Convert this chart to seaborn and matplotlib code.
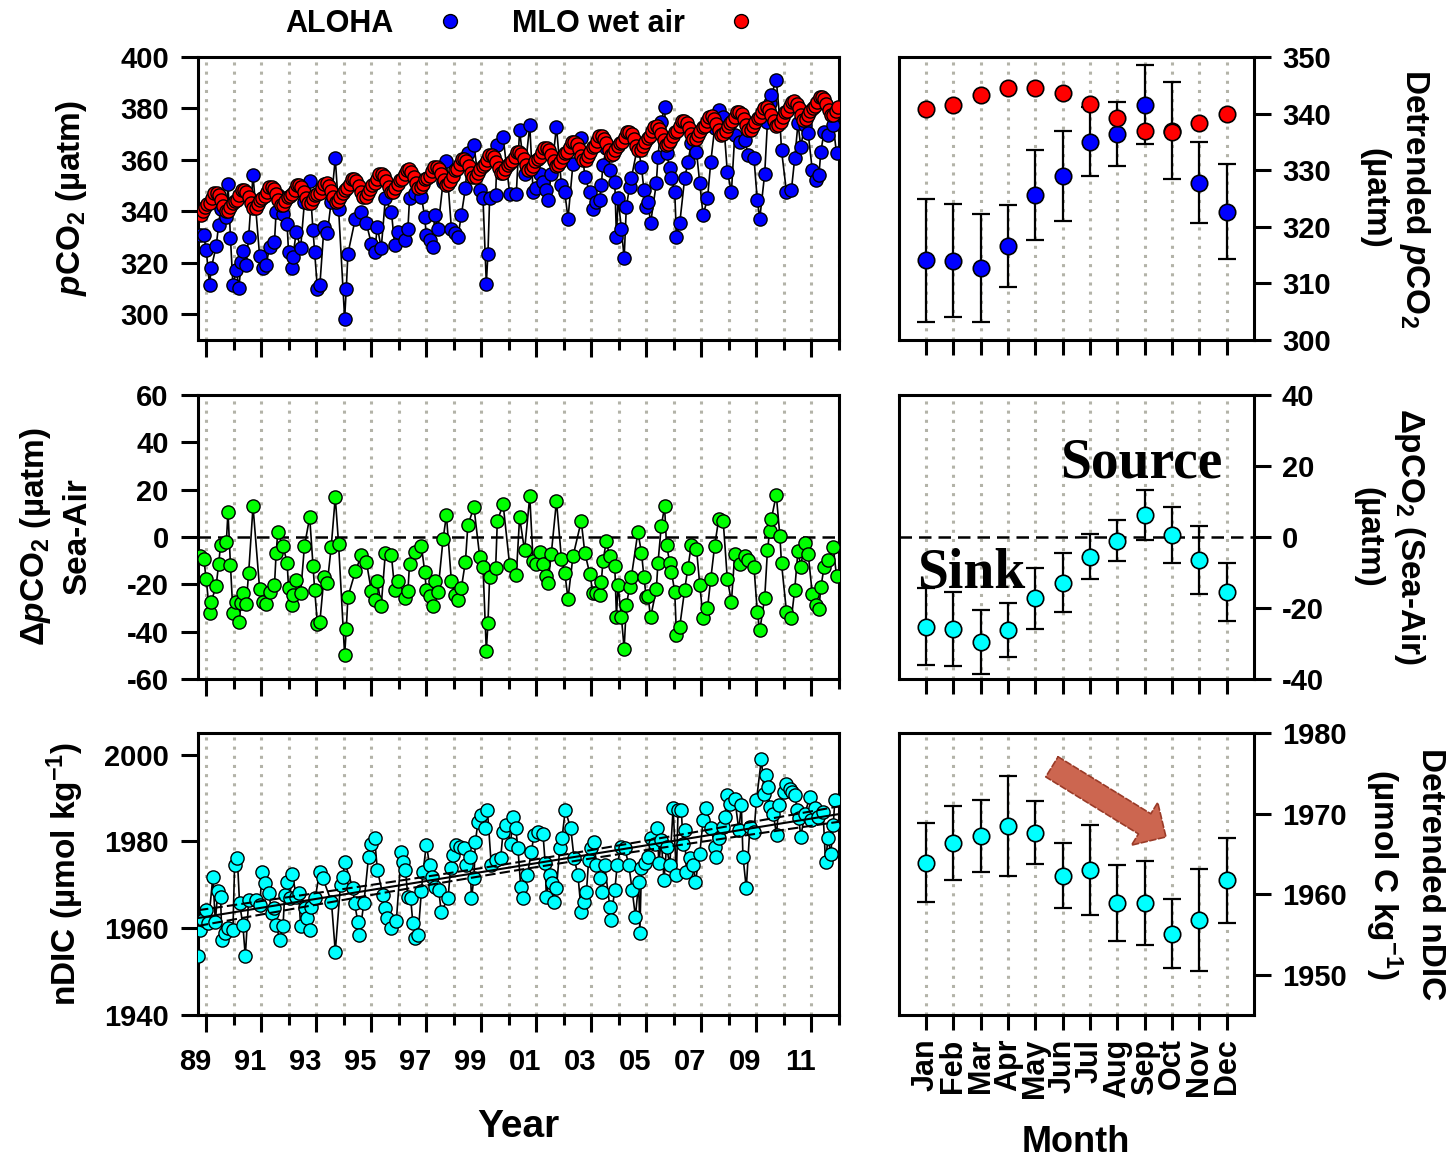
import numpy as np
import matplotlib
matplotlib.use('Agg')
import matplotlib.pyplot as plt
import matplotlib.transforms as mtransforms
from matplotlib.lines import Line2D
import seaborn as sns

# ---------------- data ----------------
# ALOHA surface pCO2 (uatm), decimal year
aloha_t = [1988.76, 1988.91, 1989.00, 1989.12, 1989.18, 1989.36, 1989.45, 1989.52, 1989.73, 1989.79,
           1989.88, 1989.97, 1990.09, 1990.19, 1990.27, 1990.33, 1990.45, 1990.54, 1990.70, 1990.94,
           1991.06, 1991.18, 1991.30, 1991.48, 1991.54, 1991.60, 1991.79, 1991.94, 1991.99, 1992.11,
           1992.15, 1992.27, 1992.43, 1992.57, 1992.76, 1992.88, 1992.94, 1993.04, 1993.13, 1993.28,
           1993.40, 1993.54, 1993.69, 1993.81, 1994.03, 1994.09, 1994.15, 1994.42, 1994.64, 1994.82,
           1995.00, 1995.12, 1995.22, 1995.36, 1995.51, 1995.73, 1995.85, 1995.97, 1996.21, 1996.33,
           1996.39, 1996.58, 1996.82, 1996.94, 1997.00, 1997.12, 1997.24, 1997.30, 1997.42, 1997.61,
           1997.73, 1997.91, 1998.03, 1998.15, 1998.27, 1998.42, 1998.51, 1998.73, 1998.94, 1999.06,
           1999.18, 1999.24, 1999.30, 1999.52, 1999.58, 1999.79, 2000.03, 2000.27, 2000.39, 2000.57,
           2000.76, 2000.88, 2001.00, 2001.12, 2001.24, 2001.36, 2001.42, 2001.54, 2001.73, 2001.91,
           2002.03, 2002.15, 2002.33, 2002.63, 2002.76, 2002.94, 2003.06, 2003.18, 2003.30, 2003.36,
           2003.42, 2003.54, 2003.66, 2003.85, 2003.91, 2003.97, 2004.09, 2004.19, 2004.27, 2004.39,
           2004.45, 2004.69, 2004.82, 2004.91, 2004.99, 2005.06, 2005.15, 2005.36, 2005.42, 2005.54,
           2005.66, 2005.73, 2005.85, 2005.91, 2006.03, 2006.09, 2006.21, 2006.39, 2006.51, 2006.63,
           2006.82, 2006.94, 2007.06, 2007.22, 2007.34, 2007.48, 2007.63, 2007.79, 2007.94, 2008.09,
           2008.21, 2008.39, 2008.57, 2008.70, 2008.91, 2009.03, 2009.12, 2009.30, 2009.40, 2009.48,
           2009.54, 2009.72, 2009.85, 2009.91, 2010.09, 2010.27, 2010.39, 2010.51, 2010.61, 2010.75,
           2010.88, 2011.03, 2011.15, 2011.27, 2011.34, 2011.46, 2011.60, 2011.79, 2011.91]
aloha_pco2 = [330.7, 330.7, 324.9, 311.3, 317.8, 326.5, 334.6, 340.9, 337.9, 350.8,
              329.7, 311.3, 317.1, 310.4, 320.4, 324.5, 319.1, 330.1, 354.1, 322.6,
              317.8, 319.1, 326.2, 328.2, 339.8, 346.3, 338.8, 334.9, 324.3, 318.0,
              322.3, 332.0, 325.8, 343.7, 351.8, 332.7, 324.3, 310.0, 311.3, 334.0,
              331.4, 343.7, 360.6, 341.1, 298.3, 310.0, 323.6, 337.2, 339.8, 335.3,
              327.5, 324.3, 334.0, 325.6, 345.0, 339.8, 326.8, 332.0, 328.8, 333.3,
              345.0, 347.0, 345.7, 337.9, 330.7, 328.8, 326.2, 338.5, 333.3, 351.5,
              359.5, 333.3, 331.4, 330.1, 338.5, 348.9, 362.5, 365.8, 348.2, 345.0,
              311.9, 323.6, 345.0, 346.3, 365.8, 369.0, 346.9, 346.9, 371.6, 354.7,
              373.5, 347.6, 348.9, 354.7, 351.5, 348.3, 344.4, 354.7, 372.9, 350.2,
              347.6, 337.2, 358.6, 368.4, 353.4, 347.6, 341.1, 343.7, 344.4, 350.2,
              358.0, 364.5, 356.0, 351.5, 330.1, 345.0, 333.3, 321.7, 341.8, 349.6,
              352.8, 365.8, 357.3, 348.3, 341.8, 343.7, 335.3, 350.9, 361.2, 374.8,
              380.7, 362.5, 356.7, 352.8, 347.6, 330.1, 335.3, 352.8, 359.3, 366.4,
              363.2, 350.9, 338.5, 345.0, 359.3, 372.3, 379.4, 376.8, 355.4, 347.6,
              369.6, 367.1, 367.7, 361.9, 360.6, 344.4, 337.2, 354.7, 374.8, 382.0,
              385.2, 391.1, 375.5, 363.8, 347.6, 348.3, 360.6, 374.2, 365.1, 373.5,
              370.3, 356.0, 352.1, 354.1, 363.2, 371.0, 369.7, 373.5, 362.5]

# MLO wet-air pCO2 (uatm), monthly from Oct 1988 to Dec 2011
mlo_start = 1988.75
mlo_pco2 = [
    338.7, 340.1, 341.8,                                                          # 1988 Oct-Dec
    342.8, 343.4, 345.2, 347.0, 347.1, 346.2, 344.3, 341.9, 340.0, 340.2, 341.6, 343.3,  # 1989
    344.0, 344.6, 346.4, 348.2, 348.3, 347.4, 345.5, 343.1, 341.2, 341.4, 342.8, 344.5,  # 1990
    345.2, 345.8, 347.6, 349.4, 349.5, 348.6, 346.7, 344.3, 342.4, 342.6, 344.0, 345.7,  # 1991
    346.0, 346.6, 348.4, 350.2, 350.3, 349.4, 347.5, 345.1, 343.2, 343.4, 344.8, 346.5,  # 1992
    346.6, 347.2, 349.0, 350.8, 350.9, 350.0, 348.1, 345.7, 343.8, 344.0, 345.4, 347.1,  # 1993
    348.3, 348.9, 350.7, 352.5, 352.6, 351.7, 349.8, 347.4, 345.5, 345.7, 347.1, 348.8,  # 1994
    350.3, 350.9, 352.7, 354.5, 354.6, 353.7, 351.8, 349.4, 347.5, 347.7, 349.1, 350.8,  # 1995
    352.0, 352.6, 354.4, 356.2, 356.3, 355.4, 353.5, 351.1, 349.2, 349.4, 350.8, 352.5,  # 1996
    353.1, 353.7, 355.5, 357.3, 357.4, 356.5, 354.6, 352.2, 350.3, 350.5, 351.9, 353.6,  # 1997
    356.0, 356.6, 358.4, 360.2, 360.3, 359.4, 357.5, 355.1, 353.2, 353.4, 354.8, 356.5,  # 1998
    357.7, 358.3, 360.1, 361.9, 362.0, 361.1, 359.2, 356.8, 354.9, 355.1, 356.5, 358.2,  # 1999
    358.9, 359.5, 361.3, 363.1, 363.2, 362.3, 360.4, 358.0, 356.1, 356.3, 357.7, 359.4,  # 2000
    360.5, 361.1, 362.9, 364.7, 364.8, 363.9, 362.0, 359.6, 357.7, 357.9, 359.3, 361.0,  # 2001
    362.6, 363.2, 365.0, 366.8, 366.9, 366.0, 364.1, 361.7, 359.8, 360.0, 361.4, 363.1,  # 2002
    364.9, 365.5, 367.3, 369.1, 369.2, 368.3, 366.4, 364.0, 362.1, 362.3, 363.7, 365.4,  # 2003
    366.5, 367.1, 368.9, 370.7, 370.8, 369.9, 368.0, 365.6, 363.7, 363.9, 365.3, 367.0,  # 2004
    368.7, 369.3, 371.1, 372.9, 373.0, 372.1, 370.2, 367.8, 365.9, 366.1, 367.5, 369.2,  # 2005
    370.8, 371.4, 373.2, 375.0, 375.1, 374.2, 372.3, 369.9, 368.0, 368.2, 369.6, 371.3,  # 2006
    372.6, 373.2, 375.0, 376.8, 376.9, 376.0, 374.1, 371.7, 369.8, 370.0, 371.4, 373.1,  # 2007
    374.4, 375.0, 376.8, 378.6, 378.7, 377.8, 375.9, 373.5, 371.6, 371.8, 373.2, 374.9,  # 2008
    376.1, 376.7, 378.5, 380.3, 380.4, 379.5, 377.6, 375.2, 373.3, 373.5, 374.9, 376.6,  # 2009
    378.5, 379.1, 380.9, 382.7, 382.8, 381.9, 380.0, 377.6, 375.7, 375.9, 377.3, 379.0,  # 2010
    380.2, 380.8, 382.6, 384.4, 384.5, 383.6, 381.7, 379.3, 377.4, 377.6, 379.0, 380.7,  # 2011
]

# ALOHA salinity-normalised DIC (umol/kg)
ndic_t = [1988.70, 1988.76, 1988.88, 1989.00, 1989.08, 1989.24, 1989.33, 1989.42, 1989.52, 1989.57,
          1989.67, 1989.79, 1989.97, 1990.03, 1990.13, 1990.21, 1990.33, 1990.42, 1990.54, 1990.82,
          1990.94, 1991.04, 1991.15, 1991.27, 1991.39, 1991.46, 1991.54, 1991.67, 1991.79, 1991.85,
          1991.94, 1992.03, 1992.13, 1992.27, 1992.36, 1992.43, 1992.58, 1992.67, 1992.76, 1992.82,
          1992.96, 1993.12, 1993.24, 1993.55, 1993.69, 1993.88, 1993.97, 1994.03, 1994.33, 1994.39,
          1994.51, 1994.57, 1994.73, 1994.90, 1995.00, 1995.12, 1995.22, 1995.42, 1995.51, 1995.58,
          1995.73, 1995.91, 1996.09, 1996.15, 1996.24, 1996.33, 1996.43, 1996.51, 1996.60, 1996.70,
          1996.82, 1996.88, 1997.00, 1997.12, 1997.21, 1997.30, 1997.45, 1997.54, 1997.79, 1997.88,
          1997.97, 1998.09, 1998.21, 1998.37, 1998.45, 1998.58, 1998.64, 1998.73, 1998.78, 1998.88,
          1998.98, 1999.12, 1999.22, 1999.36, 1999.54, 1999.70, 1999.79, 1999.91, 2000.06, 2000.15,
          2000.25, 2000.33, 2000.43, 2000.51, 2000.67, 2000.82, 2000.91, 2001.06, 2001.24, 2001.32,
          2001.36, 2001.48, 2001.57, 2001.64, 2001.73, 2001.85, 2001.93, 2002.05, 2002.25, 2002.37,
          2002.51, 2002.63, 2002.73, 2002.82, 2002.90, 2002.99, 2003.10, 2003.18, 2003.30, 2003.39,
          2003.48, 2003.67, 2003.70, 2003.85, 2003.94, 2004.07, 2004.21, 2004.36, 2004.48, 2004.60,
          2004.72, 2004.76, 2004.82, 2004.94, 2005.04, 2005.18, 2005.30, 2005.40, 2005.45, 2005.54,
          2005.64, 2005.73, 2005.85, 2005.97, 2006.09, 2006.15, 2006.27, 2006.33, 2006.39, 2006.45,
          2006.57, 2006.70, 2006.78, 2006.94, 2007.06, 2007.18, 2007.36, 2007.48, 2007.54, 2007.63,
          2007.79, 2007.85, 2007.94, 2008.03, 2008.21, 2008.36, 2008.45, 2008.51, 2008.63, 2008.76,
          2008.91, 2009.00, 2009.18, 2009.28, 2009.36, 2009.42, 2009.48, 2009.61, 2009.73, 2009.81,
          2010.00, 2010.09, 2010.21, 2010.30, 2010.39, 2010.49, 2010.54, 2010.61, 2010.76, 2010.94,
          2011.00, 2011.12, 2011.22, 2011.42, 2011.51, 2011.60, 2011.70, 2011.79, 2011.85]
ndic_val = [1953.5, 1959.6, 1961.9, 1964.2, 1961.2, 1971.9, 1961.5, 1968.5, 1967.3, 1957.3,
            1958.9, 1960.0, 1959.6, 1974.6, 1976.1, 1965.8, 1960.8, 1953.5, 1966.5, 1966.5,
            1965.4, 1973.0, 1970.4, 1968.1, 1963.5, 1964.6, 1960.8, 1957.3, 1960.4, 1967.7,
            1970.7, 1966.9, 1972.6, 1967.3, 1968.1, 1960.4, 1964.6, 1962.3, 1959.6, 1965.0,
            1966.9, 1973.0, 1971.5, 1966.1, 1954.6, 1970.0, 1971.9, 1975.3, 1969.2, 1965.8,
            1961.5, 1958.5, 1965.8, 1976.5, 1979.5, 1980.7, 1973.4, 1967.7, 1964.6, 1962.3,
            1960.0, 1961.7, 1977.6, 1975.3, 1973.4, 1967.3, 1966.9, 1961.2, 1957.7, 1958.5,
            1968.5, 1973.0, 1979.2, 1974.6, 1971.9, 1969.6, 1968.8, 1963.8, 1966.9, 1973.8,
            1976.9, 1979.2, 1978.8, 1978.4, 1974.6, 1976.5, 1966.9, 1971.5, 1979.9, 1984.5,
            1986.1, 1983.0, 1987.2, 1974.6, 1975.7, 1976.1, 1982.2, 1983.8, 1979.5, 1985.7,
            1983.0, 1978.4, 1969.6, 1966.9, 1972.3, 1977.6, 1981.5, 1982.2, 1981.8, 1975.0,
            1967.3, 1972.3, 1970.4, 1966.1, 1969.2, 1978.4, 1980.7, 1987.2, 1983.0, 1976.1,
            1972.3, 1963.8, 1966.1, 1968.4, 1975.7, 1978.4, 1979.9, 1974.6, 1971.5, 1968.4,
            1974.6, 1965.0, 1961.9, 1968.8, 1974.6, 1978.8, 1978.4, 1974.6, 1968.8, 1962.7,
            1970.7, 1958.9, 1973.8, 1975.0, 1976.5, 1980.7, 1979.5, 1983.0, 1975.0, 1980.3,
            1971.1, 1978.8, 1974.6, 1987.6, 1972.3, 1987.2, 1987.2, 1979.5, 1982.6, 1973.0,
            1976.1, 1974.6, 1970.7, 1977.2, 1984.9, 1987.6, 1983.0, 1978.8, 1976.5, 1980.7,
            1983.4, 1985.7, 1990.7, 1988.7, 1989.9, 1982.6, 1988.4, 1976.5, 1969.2, 1983.4,
            1982.2, 1989.5, 1999.1, 1991.0, 1995.3, 1992.6, 1988.0, 1986.4, 1981.5, 1988.4,
            1991.4, 1993.3, 1992.2, 1991.4, 1990.7, 1987.2, 1985.3, 1981.1, 1986.4, 1990.3,
            1984.9, 1987.6, 1985.7, 1986.8, 1975.3, 1980.7, 1977.2, 1983.8, 1989.5]

# monthly climatologies (right column)
months = ['Jan', 'Feb', 'Mar', 'Apr', 'May', 'Jun', 'Jul', 'Aug', 'Sep', 'Oct', 'Nov', 'Dec']
month_num = list(range(1, 13))
aloha_month = [314.1, 314.0, 312.7, 316.6, 325.6, 329.0, 335.0, 336.4, 341.6, 337.0, 327.8, 322.7]
aloha_month_sd = [10.9, 10.0, 9.5, 7.2, 8.0, 8.0, 6.1, 5.7, 7.0, 8.5, 7.2, 8.4]
mlo_month = [340.9, 341.5, 343.2, 344.5, 344.5, 343.6, 341.7, 339.2, 337.0, 336.8, 338.3, 339.9]
dpco2_month = [-25.3, -25.9, -29.5, -26.2, -17.3, -12.9, -5.5, -1.0, 6.2, 0.6, -6.5, -15.4]
dpco2_month_sd = [10.8, 10.3, 9.0, 7.5, 8.5, 8.3, 6.3, 5.7, 7.1, 7.9, 9.6, 8.2]
ndic_month = [1963.9, 1966.4, 1967.2, 1968.5, 1967.6, 1962.3, 1963.0, 1958.9, 1958.9, 1955.1, 1956.8, 1961.7]
ndic_month_sd = [4.9, 4.6, 4.5, 6.2, 3.9, 4.0, 5.6, 4.7, 5.2, 4.3, 6.3, 5.3]

# ---------------- derived series ----------------
mlo_t = mlo_start + (np.arange(len(mlo_pco2)) + 0.5) / 12.0
idx = np.floor((np.array(aloha_t) - mlo_start) * 12).astype(int)
idx = np.clip(idx, 0, len(mlo_pco2) - 1)
dpco2 = np.array(aloha_pco2) - np.array(mlo_pco2)[idx]

tt = np.array(ndic_t)
yy = np.array(ndic_val)
slope, icpt = np.polyfit(tt, yy, 1)
resid = yy - (slope * tt + icpt)
s_err = np.sqrt(np.sum(resid ** 2) / (len(tt) - 2))
xfit = np.linspace(1988.7, 2012.0, 200)
yfit = slope * xfit + icpt
ci = 1.97 * s_err * np.sqrt(1.0 / len(tt) + (xfit - tt.mean()) ** 2 / np.sum((tt - tt.mean()) ** 2))

# ---------------- style ----------------
sns.set_style('ticks')
plt.rcParams['font.family'] = ['Liberation Sans', 'DejaVu Sans']
plt.rcParams['font.weight'] = 'bold'
plt.rcParams['text.color'] = 'black'
plt.rcParams['axes.labelcolor'] = 'black'
plt.rcParams['xtick.color'] = 'black'
plt.rcParams['ytick.color'] = 'black'
plt.rcParams['axes.unicode_minus'] = False
plt.rcParams['mathtext.fontset'] = 'custom'
plt.rcParams['mathtext.rm'] = 'Liberation Sans:bold'
plt.rcParams['mathtext.it'] = 'Liberation Sans:italic:bold'
plt.rcParams['mathtext.bf'] = 'Liberation Sans:bold'

BLUE, RED, GREEN, CYAN = '#0000ff', '#ff0000', '#00ff00', '#00ffff'
GRID = dict(color='#b3b3a8', linestyle=(0, (1, 2)), linewidth=2.2)
W, H = 1446.0, 1159.0


def box(x0, x1, y0, y1):
    return [x0 / W, 1 - y1 / H, (x1 - x0) / W, (y1 - y0) / H]


def frame(ax):
    for sp in ax.spines.values():
        sp.set_visible(True)
        sp.set_linewidth(2.2)
        sp.set_color('black')
    ax.tick_params(which='both', direction='out', width=2.2, colors='black',
                   labelcolor='black', labelsize=21)
    ax.tick_params(which='major', length=12)
    ax.set_axisbelow(True)
    ax.set_xlabel('')
    ax.set_ylabel('')


def left_panel(ax, ylim, yticks, labels):
    frame(ax)
    ax.set_xlim(1988.7, 2012.0)
    ax.set_ylim(*ylim)
    ax.set_yticks(yticks)
    ax.set_xticks(np.arange(1989, 2012, 2))
    ax.set_xticks(np.arange(1990, 2013, 2), minor=True)
    ax.tick_params(axis='x', which='minor', length=7)
    ax.tick_params(axis='y', pad=9)
    ax.tick_params(axis='x', pad=12)
    ax.xaxis.grid(True, which='both', **GRID)
    ax.yaxis.grid(False)
    if labels:
        ax.set_xticklabels(['%02d' % (y % 100) for y in range(1989, 2012, 2)])
        shift = mtransforms.ScaledTranslation(-11 / 100.0, 0, fig.dpi_scale_trans)
        for lab in ax.get_xticklabels():
            lab.set_transform(lab.get_transform() + shift)
    else:
        ax.set_xticklabels([])


def right_panel(ax, ylim, yticks, labels):
    frame(ax)
    ax.set_xlim(0, 13)
    ax.set_ylim(*ylim)
    ax.set_yticks(yticks)
    ax.yaxis.tick_right()
    ax.tick_params(axis='y', left=False, right=True, pad=8)
    ax.set_xticks(month_num)
    ax.tick_params(axis='x', length=11, pad=6)
    ax.xaxis.grid(True, **GRID)
    ax.yaxis.grid(False)
    if labels:
        ax.set_xticklabels(months, rotation=90, fontsize=22)
    else:
        ax.set_xticklabels([])


def ylab(ax, x, text, rot):
    ax.text(x, 0.5, text, rotation=rot, ha='center', va='center', multialignment='center',
            transform=ax.transAxes, fontsize=24, linespacing=1.35, color='black')


fig = plt.figure(figsize=(14.46, 11.59), dpi=100)
aL1 = fig.add_axes(box(198, 839, 57, 340))
aL2 = fig.add_axes(box(198, 839, 395, 679))
aL3 = fig.add_axes(box(198, 839, 733, 1015))
aR1 = fig.add_axes(box(898.5, 1254, 57, 340))
aR2 = fig.add_axes(box(898.5, 1254, 395, 679))
aR3 = fig.add_axes(box(898.5, 1254, 733, 1015))

line_kw = dict(estimator=None, sort=True, color='black', lw=1.2, marker='o', markersize=9.5,
               markeredgecolor='black', markeredgewidth=1.0, legend=False)

# --- pCO2 time series
sns.lineplot(x=aloha_t, y=aloha_pco2, ax=aL1, markerfacecolor=BLUE, zorder=3, **line_kw)
sns.lineplot(x=mlo_t, y=mlo_pco2, ax=aL1, markerfacecolor=RED, zorder=4, **line_kw)
left_panel(aL1, (290, 400), range(300, 401, 20), False)
ylab(aL1, -0.197, r'$p$CO$_2$ (µatm)', 90)

# --- delta pCO2 time series
aL2.axhline(0, color='black', lw=1.8, ls=(0, (5, 2.8)), zorder=2)
sns.lineplot(x=aloha_t, y=dpco2, ax=aL2, markerfacecolor=GREEN, zorder=3, **line_kw)
left_panel(aL2, (-60, 60), range(-60, 61, 20), False)
ylab(aL2, -0.222, 'Δ$p$CO$_2$ (µatm)\nSea-Air', 90)

# --- nDIC time series with linear fit
sns.lineplot(x=ndic_t, y=ndic_val, ax=aL3, markerfacecolor=CYAN, zorder=3, **line_kw)
aL3.plot(xfit, yfit, color='black', lw=1.5, zorder=4)
aL3.plot(xfit, yfit + ci, color='black', lw=1.5, ls=(0, (5, 2)), zorder=4)
aL3.plot(xfit, yfit - ci, color='black', lw=1.5, ls=(0, (5, 2)), zorder=4)
left_panel(aL3, (1940, 2005), range(1940, 2001, 20), True)
ylab(aL3, -0.207, r'nDIC (µmol kg$^{-1}$)', 90)

# --- monthly pCO2
aR1.errorbar(month_num, aloha_month, yerr=aloha_month_sd, fmt='none', ecolor='black',
             elinewidth=1.6, capsize=6.5, capthick=1.6, zorder=3)
sns.scatterplot(x=month_num, y=aloha_month, ax=aR1, color=BLUE, edgecolor='black',
                linewidth=1.2, s=140, zorder=4, legend=False)
sns.scatterplot(x=month_num, y=mlo_month, ax=aR1, color=RED, edgecolor='black',
                linewidth=1.2, s=140, zorder=5, legend=False)
right_panel(aR1, (300, 350), range(300, 351, 10), False)
ylab(aR1, 1.397, 'Detrended $p$CO$_2$\n(µatm)', 270)

# --- monthly delta pCO2
aR2.axhline(0, color='black', lw=1.8, ls=(0, (5, 2.8)), zorder=2)
aR2.errorbar(month_num, dpco2_month, yerr=dpco2_month_sd, fmt='none', ecolor='black',
             elinewidth=1.6, capsize=6.5, capthick=1.6, zorder=3)
sns.scatterplot(x=month_num, y=dpco2_month, ax=aR2, color=CYAN, edgecolor='black',
                linewidth=1.2, s=140, zorder=4, legend=False)
right_panel(aR2, (-40, 40), range(-40, 41, 20), False)
ylab(aR2, 1.382, 'ΔpCO$_2$ (Sea-Air)\n(µatm)', 270)
serif = dict(family=['Liberation Serif', 'DejaVu Serif'], weight='bold', size=40, color='black')
aR2.text(5.9, 16.9, 'Source', ha='left', va='baseline', zorder=6, **serif)
aR2.text(0.69, -14.1, 'Sink', ha='left', va='baseline', zorder=6, **serif)

# --- monthly nDIC
aR3.errorbar(month_num, ndic_month, yerr=ndic_month_sd, fmt='none', ecolor='black',
             elinewidth=1.6, capsize=6.5, capthick=1.6, zorder=3)
sns.scatterplot(x=month_num, y=ndic_month, ax=aR3, color=CYAN, edgecolor='black',
                linewidth=1.2, s=140, zorder=4, legend=False)
right_panel(aR3, (1945, 1980), range(1950, 1981, 10), True)
ylab(aR3, 1.423, 'Detrended nDIC\n(µmol C kg$^{-1}$)', 270)
aR3.annotate('', xy=(9.78, 1967.1), xytext=(5.61, 1975.8), zorder=6,
             arrowprops=dict(arrowstyle='simple,head_length=0.9,head_width=1.8,tail_width=0.85',
                             mutation_scale=20, fc='#cc6650', ec='#9a3b28', lw=1.2, ls='--',
                             shrinkA=0, shrinkB=0))

# --- axis titles and legend
fig.text(518 / W, 1 - 1127 / H, 'Year', ha='center', va='center', fontsize=28, color='black')
fig.text(1076 / W, 1 - 1143 / H, 'Month', ha='center', va='center', fontsize=26, color='black')

handles = [Line2D([], [], ls='none', marker='o', ms=10, mfc=BLUE, mec='black', mew=1.0),
           Line2D([], [], ls='none', marker='o', ms=10, mfc=RED, mec='black', mew=1.0)]
leg = fig.legend(handles, ['ALOHA', 'MLO wet air'], ncol=2, markerfirst=False, frameon=False,
                 loc='center', bbox_to_anchor=(521 / W, 1 - 24 / H), fontsize=22,
                 handlelength=1.0, handletextpad=1.35, columnspacing=1.5, borderpad=0,
                 borderaxespad=0, labelcolor='black')

fig.savefig('out.png', dpi=100)
